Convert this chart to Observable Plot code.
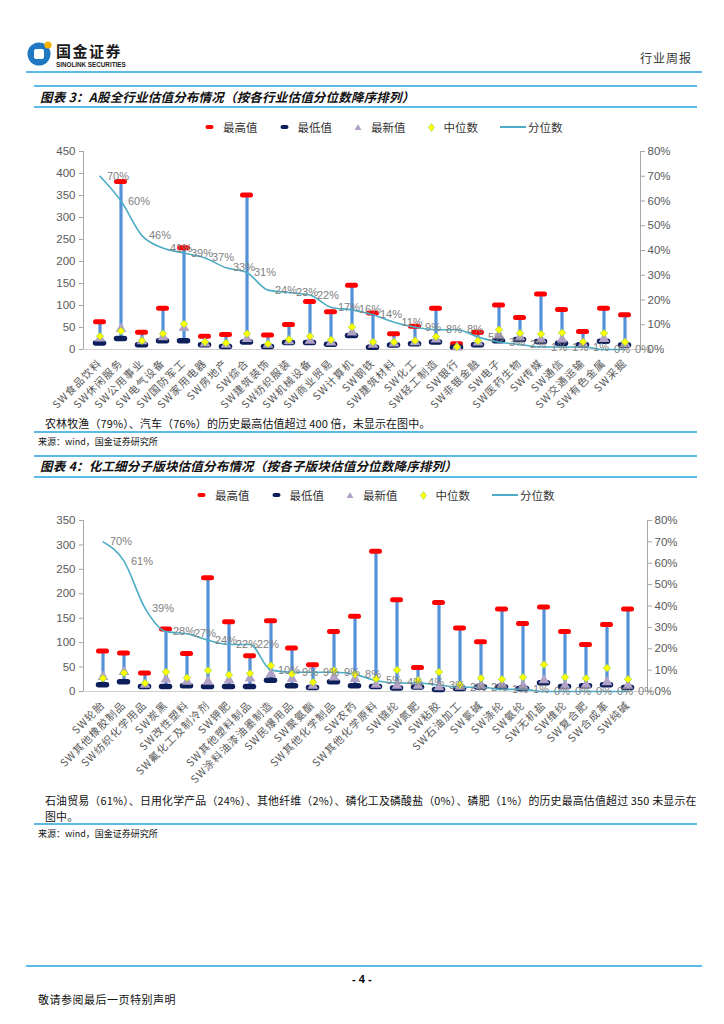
<!DOCTYPE html>
<html>
<head>
<meta charset="utf-8">
<script src="https://cdn.jsdelivr.net/npm/d3@7"></script>
<script src="https://cdn.jsdelivr.net/npm/@observablehq/plot@0.6"></script>
<style>
  body { margin: 0; background: #fff; }
  #page { position: relative; width: 724px; height: 1024px; overflow: hidden; background: #fff; font-family: "Noto Sans CJK SC", "Liberation Sans", sans-serif; color: #000; }
  .abs { position: absolute; line-height: 1; }
  .hline { position: absolute; background: #5bbbe8; }
  .title { position: absolute; left: 40px; font-size: 12.5px; line-height: 1.2; font-weight: bold; font-style: italic; color: #111; white-space: nowrap; letter-spacing: 0.2px; }
  .legend { position: absolute; display: flex; align-items: center; font-size: 11.5px; color: #333; white-space: nowrap; }
  .legend .item { display: flex; align-items: center; margin-right: 22px; }
  .legend .item svg { margin-right: 9px; }
  .note { position: absolute; left: 45px; font-size: 11px; color: #111; white-space: nowrap; letter-spacing: 0.1px; }
  .src { position: absolute; left: 38px; font-size: 9px; color: #111; white-space: nowrap; }
  .chart { position: absolute; }
  .chart g[aria-label="x-axis tick label"] text { letter-spacing: 1.1px; }
</style>
</head>
<body>
<div id="page">
  <!-- header -->
  <svg class="abs" style="left:26px;top:38px" width="30" height="32">
    <circle cx="13" cy="16" r="11.5" fill="#1f78c1"/>
    <rect x="8" y="11" width="10" height="10" rx="2" fill="#fff"/>
    <circle cx="22" cy="7" r="3.6" fill="#f5b400"/>
  </svg>
  <div class="abs" style="left:56px;top:43px;font-size:15px;font-weight:bold;letter-spacing:1.5px;color:#1a1a1a;">国金证券</div>
  <div class="abs" style="left:56px;top:61.5px;font-size:6.3px;font-weight:bold;font-family:'Liberation Sans',sans-serif;color:#1a1a1a;">SINOLINK SECURITIES</div>
  <div class="abs" style="left:640px;top:52px;font-size:12px;color:#333;letter-spacing:1px;">行业周报</div>
  <div class="hline" style="left:26px;top:71px;width:676px;height:1.5px;"></div>

  <!-- figure 3 -->
  <div class="hline" style="left:34px;top:85px;width:663px;height:1.5px;"></div>
  <div class="title" style="top:89px;">图表 3：A股全行业估值分布情况（按各行业估值分位数降序排列）</div>
  <div class="hline" style="left:34px;top:106px;width:663px;height:1.5px;"></div>
  <div class="legend" id="legend1" style="left:205px;top:119px;"></div>
  <div class="chart" id="chart1" style="left:20px;top:140px;"></div>
  <div class="note" style="top:415px;">农林牧渔（79%）、汽车（76%）的历史最高估值超过 400 倍，未显示在图中。</div>
  <div class="hline" style="left:34px;top:431px;width:663px;height:1.5px;"></div>
  <div class="src" style="top:435px;">来源：wind，国金证券研究所</div>

  <!-- figure 4 -->
  <div class="hline" style="left:34px;top:455px;width:663px;height:1.5px;"></div>
  <div class="title" style="top:458px;">图表 4：化工细分子版块估值分布情况（按各子版块估值分位数降序排列）</div>
  <div class="hline" style="left:34px;top:476px;width:663px;height:1.5px;"></div>
  <div class="legend" id="legend2" style="left:197px;top:487px;"></div>
  <div class="chart" id="chart2" style="left:20px;top:508px;"></div>
  <div class="note" style="top:792px;line-height:16px;font-size:10.9px;letter-spacing:0.2px;">石油贸易（61%）、日用化学产品（24%）、其他纤维（2%）、磷化工及磷酸盐（0%）、磷肥（1%）的历史最高估值超过 350 未显示在<br>图中。</div>
  <div class="hline" style="left:34px;top:823px;width:663px;height:1.5px;"></div>
  <div class="src" style="top:827px;">来源：wind，国金证券研究所</div>

  <!-- footer -->
  <div class="hline" style="left:26px;top:965px;width:676px;height:2px;"></div>
  <div class="abs" style="left:352px;top:974px;font-size:11px;font-weight:bold;font-family:'Liberation Sans',sans-serif;">- 4 -</div>
  <div class="abs" style="left:38px;top:994px;font-size:11px;letter-spacing:0.5px;color:#111;">敬请参阅最后一页特别声明</div>
</div>

<script>
// ---------- Data: figure 3 ----------
const cats1 = ["SW食品饮料","SW休闲服务","SW公用事业","SW电气设备","SW国防军工","SW家用电器","SW房地产","SW综合","SW建筑装饰","SW纺织服装","SW机械设备","SW商业贸易","SW计算机","SW钢铁","SW建筑材料","SW化工","SW轻工制造","SW银行","SW非银金融","SW电子","SW医药生物","SW传媒","SW通信","SW交通运输","SW有色金属","SW采掘"];
const max1    = [63,382,39,94,231,30,34,351,33,57,109,86,146,83,36,53,94,13,39,101,73,126,91,41,94,79];
const min1    = [15,25,11,20,20,11,7,17,7,16,16,12,32,5,10,13,17,5,11,20,23,18,14,11,19,10];
const latest1 = [25,47,19,28,49,14,11,24,11,19,20,16,39,11,14,17,23,5,16,32,28,23,23,14,24,13];
const median1 = [30,42,20,36,58,17,15,36,13,23,30,22,51,17,17,20,29,6,20,45,37,35,38,17,37,17];
const pct1    = [70,60,46,41,39,37,33,31,24,23,22,17,16,14,11,9,8,8,5,3,2,1,1,1,0,0];
const leftTicks1 = [0,50,100,150,200,250,300,350,400,450];

// ---------- Data: figure 4 ----------
const cats2 = ["SW轮胎","SW其他橡胶制品","SW纺织化学用品","SW炭黑","SW改性塑料","SW氟化工及制冷剂","SW钾肥","SW其他塑料制品","SW涂料油漆油墨制造","SW民爆用品","SW聚氨酯","SW其他化学制品","SW农药","SW其他化学原料","SW锦纶","SW氮肥","SW粘胶","SW石油加工","SW氯碱","SW涤纶","SW氨纶","SW无机盐","SW维纶","SW复合肥","SW合成革","SW纯碱"];
const max2    = [83,79,38,128,78,233,143,73,145,89,55,123,154,287,188,49,182,130,102,169,139,173,123,96,137,169];
const min2    = [14,20,10,10,12,10,10,10,23,12,8,20,12,10,7,9,4,6,9,9,6,18,10,12,14,8];
const latest2 = [30,40,14,25,20,20,23,27,36,26,12,29,26,14,12,12,9,10,12,14,12,23,12,14,19,12];
const median2 = [27,38,17,40,28,43,34,37,53,36,19,43,35,26,44,23,40,14,27,25,29,55,29,27,48,25];
const pct2    = [70,61,39,28,27,24,22,22,10,9,9,9,8,5,4,4,3,2,2,1,1,0,0,0,0,0];
const leftTicks2 = [0,50,100,150,200,250,300,350];

const pctTicks = [0,10,20,30,40,50,60,70,80];
const legendNames = ["最高值","最低值","最新值","中位数","分位数"];

// ---------- Colors ----------
const C = { max: "#ff0000", min: "#0c1f5a", latest: "#b3a2c7", median: "#ffff00", medianStroke: "#8fd14f", bar: "#5591d8", line: "#4bacc6", axisText: "#595959", pctText: "#808080", axis: "#a6a6a6" };

function legend(el) {
  const sym = [
    `<svg width="9" height="6"><rect x="0.5" y="1" width="8" height="4" rx="2" fill="${C.max}"/></svg>`,
    `<svg width="9" height="6"><rect x="0.5" y="1" width="8" height="4" rx="2" fill="${C.min}"/></svg>`,
    `<svg width="8" height="8"><path d="M4,1 L7.5,7 L0.5,7 Z" fill="${C.latest}"/></svg>`,
    `<svg width="7" height="9"><path d="M3.5,0.5 L6.5,4.5 L3.5,8.5 L0.5,4.5 Z" fill="${C.median}" stroke="${C.medianStroke}" stroke-width="0.6"/></svg>`,
    `<svg width="26" height="6" style="margin-right:2px"><line x1="0" x2="26" y1="3" y2="3" stroke="${C.line}" stroke-width="2"/></svg>`
  ];
  el.innerHTML = legendNames.map((n, i) => `<div class="item">${sym[i]}<span>${n}</span></div>`).join("");
}

function chart(cats, maxv, minv, latest, median, pct, yMax, leftTicks, opts) {
  const rows = cats.map((c, i) => ({ cat: c, max: maxv[i], min: minv[i], latest: latest[i], median: median[i], pct: pct[i] }));
  const toY = p => p * yMax / 80;
  return Plot.plot({
    width: opts.width, height: opts.height,
    marginTop: opts.mt, marginBottom: opts.mb, marginLeft: opts.ml, marginRight: opts.mr,
    style: { fontFamily: "'Liberation Sans', Arial, sans-serif", background: "transparent", overflow: "visible" },
    x: { type: "band", domain: cats, padding: 0 },
    y: { domain: [0, yMax] },
    marks: [
      Plot.axisY(leftTicks, { anchor: "left", tickSize: 4, tickPadding: 4, fontSize: 11.5, fill: C.axisText, stroke: C.axis, label: null }),
      Plot.axisY(pctTicks.map(toY), { anchor: "right", tickSize: 4, tickPadding: 3, fontSize: 11.5, fill: C.axisText, stroke: C.axis, label: null, tickFormat: v => Math.round(v * 80 / yMax) + "%" }),
      Plot.axisX({ anchor: "bottom", tickRotate: -45, tickSize: 0, tickPadding: 12, fontSize: 10.5, fill: C.axisText, fontFamily: "'Noto Sans CJK SC', sans-serif", label: null }),
      Plot.frame({ anchor: "left", stroke: C.axis }),
      Plot.frame({ anchor: "right", stroke: C.axis }),
      Plot.ruleY([0], { stroke: "#d0d0d0" }),
      Plot.ruleX(rows, { x: "cat", y1: "min", y2: "max", stroke: C.bar, strokeWidth: 3.2 }),
      Plot.tickY(rows, { x: "cat", y: "max", stroke: C.max, strokeWidth: 5, strokeLinecap: "round", inset: 6.5 }),
      Plot.tickY(rows, { x: "cat", y: "min", stroke: C.min, strokeWidth: 5.5, strokeLinecap: "round", inset: 6.5 }),
      Plot.line(rows, { x: "cat", y: d => toY(d.pct), stroke: C.line, strokeWidth: 1.6, curve: "monotone-x" }),
      Plot.dot(rows, { x: "cat", y: "latest", symbol: "triangle", r: 4, fill: C.latest }),
      Plot.dot(rows, { x: "cat", y: "median", symbol: "diamond2", r: 3.4, fill: C.median, stroke: C.medianStroke, strokeWidth: 0.7 }),
      Plot.text(rows, { x: "cat", y: d => toY(d.pct), text: d => d.pct + "%", dx: 18, dy: 0, fill: C.pctText, fontSize: 11 })
    ]
  });
}

legend(document.getElementById("legend1"));
legend(document.getElementById("legend2"));

document.getElementById("chart1").appendChild(
  chart(cats1, max1, min1, latest1, median1, pct1, 450, leftTicks1, { width: 680, height: 270, mt: 11, mb: 61, ml: 63, mr: 60 })
);
document.getElementById("chart2").appendChild(
  chart(cats2, max2, min2, latest2, median2, pct2, 350, leftTicks2, { width: 690, height: 290, mt: 12, mb: 107, ml: 63, mr: 63 })
);
</script>
</body>
</html>
